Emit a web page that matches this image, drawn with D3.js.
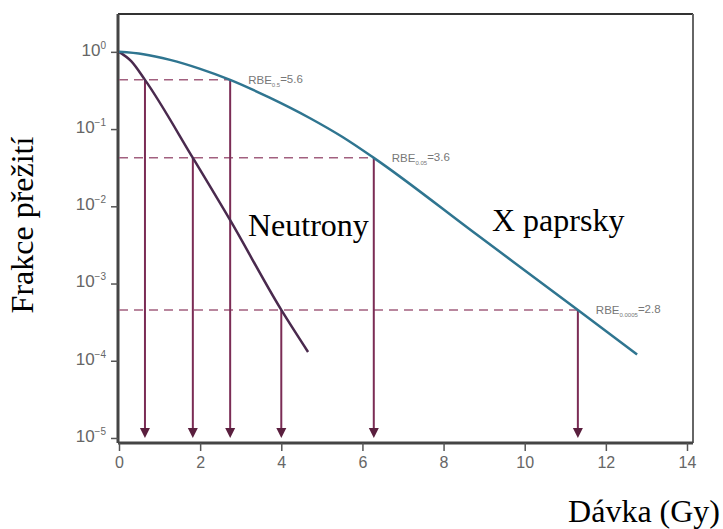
<!DOCTYPE html>
<html>
<head>
<meta charset="utf-8">
<script src="https://cdn.jsdelivr.net/npm/d3@7"></script>
<style>
  body { margin: 0; background: #fff; }
</style>
</head>
<body>
<script>
// data
var xrayDose = [0, 0.6, 1.26, 2, 2.74, 3.7, 4.71, 5.5, 6.28, 8.8, 11.31, 12.77];
var xrayLog  = [0, -0.03, -0.104, -0.22, -0.363, -0.59, -0.86, -1.1, -1.373, -2.36, -3.342, -3.92];
var neutDose = [0, 0.3, 0.64, 1.82, 2.74, 4.0, 4.66];
var neutLog  = [0, -0.12, -0.363, -1.373, -2.18, -3.342, -3.886];

var levels = [0.434, 0.0424, 4.55e-4];
var xrayAt = [2.74, 6.28, 11.31];
var neutAt = [0.64, 1.82, 4.0];
var rbeSub = ["0.5", "0.05", "0.0005"];
var rbeVal = ["5.6", "3.6", "2.8"];

var xTicks = [0, 2, 4, 6, 8, 10, 12, 14];
var yExp = [0, -1, -2, -3, -4, -5];

var SERIF = "'Liberation Serif', 'Times New Roman', Times, serif";
var SANS = "'Liberation Sans', Arial, Helvetica, sans-serif";

var width = 723, height = 529;
var svg = d3.select('body').append('svg').attr('width', width).attr('height', height);

var x = d3.scaleLinear().domain([0, 14]).range([119, 687]);
var y = d3.scaleLog().domain([Math.pow(10, -5.065), Math.pow(10, 0.49)]).range([443, 14]);
var bottom = Math.pow(10, -5);

// frame
svg.append('line').attr('x1', 118).attr('x2', 693).attr('y1', 14).attr('y2', 14)
    .attr('stroke', '#333').attr('stroke-width', 2);
svg.append('line').attr('x1', 693).attr('x2', 693).attr('y1', 14).attr('y2', 443)
    .attr('stroke', '#666').attr('stroke-width', 2);

// axes
var xAxis = svg.append('g').attr('transform', 'translate(0,443)')
    .call(d3.axisBottom(x).tickValues(xTicks).tickSize(8).tickPadding(6).tickFormat(d3.format('d')));
xAxis.select('.domain').attr('d', 'M118,0H693').attr('stroke', '#444').attr('stroke-width', 3);
xAxis.selectAll('.tick line').attr('stroke', '#555').attr('stroke-width', 1.5);
xAxis.selectAll('.tick text').attr('fill', '#666').attr('font-size', 16)
    .style('font-family', SANS);

var yAxis = svg.append('g').attr('transform', 'translate(118,0)')
    .call(d3.axisLeft(y).tickValues(yExp.map(function(e){ return Math.pow(10, e); })).tickSize(7).tickPadding(5).tickFormat(''));
yAxis.select('.domain').attr('d', 'M0,14V443').attr('stroke', '#444').attr('stroke-width', 3);
yAxis.selectAll('.tick line').attr('stroke', '#555').attr('stroke-width', 1.5);
yAxis.selectAll('.tick text').each(function(d, i){
    var t = d3.select(this).attr('fill', '#666').attr('font-size', 17)
        .style('font-family', SANS).attr('dy', '0.2em');
    t.append('tspan').text('10');
    t.append('tspan').attr('font-size', 10).attr('dy', '-0.7em')
        .text(yExp[i] == 0 ? '0' : '\u2212' + (-yExp[i]));
});

// dashed levels
svg.selectAll('.lvl').data(levels).enter().append('line').attr('class', 'lvl')
    .attr('x1', 119).attr('x2', function(d, i){ return x(xrayAt[i]); })
    .attr('y1', function(d){ return y(d); }).attr('y2', function(d){ return y(d); })
    .attr('stroke', '#a2607f').attr('stroke-width', 1.5).attr('stroke-dasharray', '9,6');

// arrows
var arrows = [];
for (var i = 0; i < levels.length; i++) {
    arrows.push({ d: neutAt[i], v: levels[i] });
    arrows.push({ d: xrayAt[i], v: levels[i] });
}
svg.selectAll('.arr').data(arrows).enter().append('line').attr('class', 'arr')
    .attr('x1', function(d){ return x(d.d); }).attr('x2', function(d){ return x(d.d); })
    .attr('y1', function(d){ return y(d.v); }).attr('y2', y(bottom) - 8)
    .attr('stroke', '#7b2c55').attr('stroke-width', 2);
svg.selectAll('.head').data(arrows).enter().append('path').attr('class', 'head')
    .attr('d', function(d){
        var px = x(d.d), py = y(bottom);
        return 'M' + (px - 5) + ',' + (py - 10) + 'L' + (px + 5) + ',' + (py - 10) + 'L' + px + ',' + py + 'Z';
    })
    .attr('fill', '#5a1f3e');

// curves
var line = d3.line()
    .x(function(d){ return x(d[0]); })
    .y(function(d){ return y(Math.pow(10, d[1])); })
    .curve(d3.curveMonotoneX);

svg.append('path').attr('d', line(d3.zip(neutDose, neutLog)))
    .attr('fill', 'none').attr('stroke', '#4a2a4e').attr('stroke-width', 2.5);
svg.append('path').attr('d', line(d3.zip(xrayDose, xrayLog)))
    .attr('fill', 'none').attr('stroke', '#2f7590').attr('stroke-width', 2.5);

// RBE labels
svg.selectAll('.rbe').data(levels).enter().append('text').attr('class', 'rbe')
    .attr('x', function(d, i){ return x(xrayAt[i]) + 18; })
    .attr('y', function(d){ return y(d) + 4; })
    .attr('fill', '#777').attr('font-size', 11.5).style('font-family', SANS)
    .each(function(d, i){
        var t = d3.select(this);
        t.append('tspan').text('RBE');
        t.append('tspan').attr('font-size', 6).attr('dy', '0.5em').text(rbeSub[i]);
        t.append('tspan').attr('dy', '-0.3em').text('=' + rbeVal[i]);
    });

// curve names and axis titles
svg.append('text').attr('x', 248).attr('y', 236).style('font-family', SERIF)
    .attr('font-size', 32).text('Neutrony');
svg.append('text').attr('x', 492).attr('y', 231).style('font-family', SERIF)
    .attr('font-size', 32).text('X paprsky');
svg.append('text').attr('x', 720).attr('y', 522).attr('text-anchor', 'end')
    .style('font-family', SERIF).attr('font-size', 32).text('Dávka (Gy)');
svg.append('text').attr('transform', 'translate(33,225) rotate(-90)')
    .attr('text-anchor', 'middle').style('font-family', SERIF)
    .attr('font-size', 32).text('Frakce přežití');
</script>
</body>
</html>
